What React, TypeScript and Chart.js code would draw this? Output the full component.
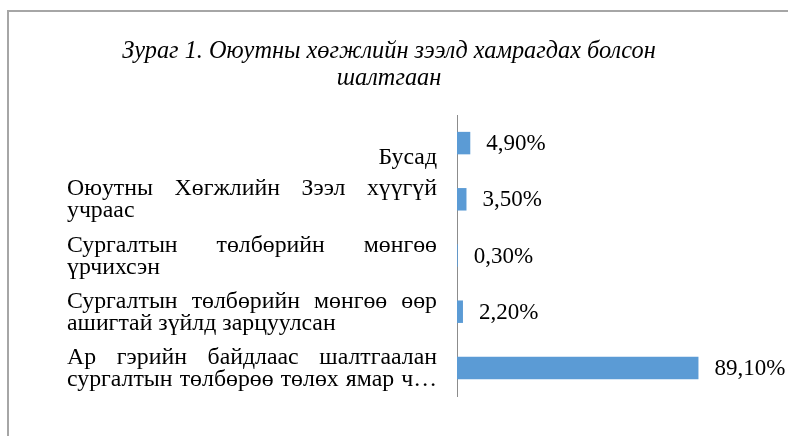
import { useEffect, useRef } from "react";
import { Chart, registerables } from "chart.js";

Chart.register(...registerables);

const titleLines = ["Зураг 1. Оюутны хөгжлийн зээлд хамрагдах болсон", "шалтгаан"];

const categoryLines: string[][] = [
  ["", "Бусад"],
  ["Оюутны Хөгжлийн Зээл хүүгүй", "учраас"],
  ["Сургалтын төлбөрийн мөнгөө", "үрчихсэн"],
  ["Сургалтын төлбөрийн мөнгөө өөр", "ашигтай зүйлд зарцуулсан"],
  ["Ар гэрийн байдлаас шалтгаалан", "сургалтын төлбөрөө төлөх ямар ч…"],
];

const values = [4.9, 3.5, 0.3, 2.2, 89.1];

const axisMin = 0;
const axisMax = 100;

const W = 788;
const H = 436;
const SERIF = '"Liberation Serif", "Times New Roman", serif';

const fmt = (v: number) => v.toFixed(2).replace(".", ",") + "%";

const textPlugin = {
  id: "customTexts",
  afterDraw(chart: any) {
    const ctx: CanvasRenderingContext2D = chart.ctx;
    ctx.save();
    ctx.fillStyle = "#000000";

    // Title
    ctx.font = `italic 24.3px ${SERIF}`;
    ctx.textAlign = "center";
    ctx.textBaseline = "alphabetic";
    titleLines.forEach((t, i) => ctx.fillText(t, 389, 58 + i * 27));

    // Category labels (justified)
    const yScale = chart.scales.y;
    const left = 67;
    const right = 437;
    const LH = 22;
    ctx.font = `23.8px ${SERIF}`;
    ctx.textAlign = "left";
    categoryLines.forEach((lines, i) => {
      const cy = yScale.getPixelForValue(i);
      const n = lines.length;
      const nonEmpty = lines.filter((l) => l.length > 0).length;
      lines.forEach((line, j) => {
        if (!line) return;
        let base = cy + (j - (n - 1) / 2) * LH + 7;
        const isLast = j === n - 1;
        if (nonEmpty === 1) {
          base += 3;
          ctx.textAlign = "right";
          ctx.fillText(line, right, base);
          ctx.textAlign = "left";
          return;
        }
        const words = line.split(" ");
        const justify = (!isLast || line.endsWith("…")) && words.length > 1;
        if (!justify) {
          ctx.fillText(line, left, base);
          return;
        }
        const widths = words.map((w) => ctx.measureText(w).width);
        const total = widths.reduce((a, b) => a + b, 0);
        const gap = (right - left - total) / (words.length - 1);
        let x = left;
        words.forEach((w, k) => {
          ctx.fillText(w, x, base);
          x += widths[k] + gap;
        });
      });
    });

    // Data labels
    ctx.font = `23px ${SERIF}`;
    ctx.textAlign = "left";
    ctx.textBaseline = "middle";
    const meta = chart.getDatasetMeta(0);
    meta.data.forEach((bar: any, i: number) => {
      ctx.fillText(fmt(values[i]), bar.x + 16, bar.y + 1);
    });
    ctx.restore();
  },
};

export default function App() {
  const ref = useRef<HTMLCanvasElement | null>(null);

  useEffect(() => {
    if (!ref.current) return;
    const chart = new Chart(ref.current, {
      type: "bar",
      data: {
        labels: categoryLines.map((l) => l.join(" ").trim()),
        datasets: [
          {
            data: values,
            backgroundColor: "#5B9BD5",
            borderWidth: 0,
            barPercentage: 0.4,
            categoryPercentage: 1,
          },
        ],
      },
      options: {
        indexAxis: "y",
        animation: false,
        responsive: false,
        maintainAspectRatio: false,
        layout: { padding: { left: 457, top: 115, right: 60, bottom: 40 } },
        plugins: {
          legend: { display: false },
          title: { display: false },
          tooltip: { enabled: false },
        },
        scales: {
          x: { display: false, min: axisMin, max: axisMax },
          y: {
            display: true,
            ticks: { display: false },
            grid: { display: false, drawTicks: false },
            border: { display: true, color: "#8c8c8c", width: 1 },
            afterFit: (scale: any) => {
              scale.width = 0;
            },
          },
        },
      },
      plugins: [textPlugin],
    });
    return () => chart.destroy();
  }, []);

  return (
    <div
      style={{
        position: "fixed",
        left: 0,
        top: 0,
        width: W,
        height: H,
        overflow: "hidden",
        background: "#ffffff",
      }}
    >
      <div
        style={{
          position: "absolute",
          left: 7,
          top: 10,
          width: W + 20,
          height: H + 20,
          borderTop: "2px solid #a6a6a6",
          borderLeft: "2px solid #a6a6a6",
        }}
      />
      <canvas
        ref={ref}
        width={W}
        height={H}
        style={{ position: "absolute", left: 0, top: 0, width: W, height: H }}
      />
    </div>
  );
}
